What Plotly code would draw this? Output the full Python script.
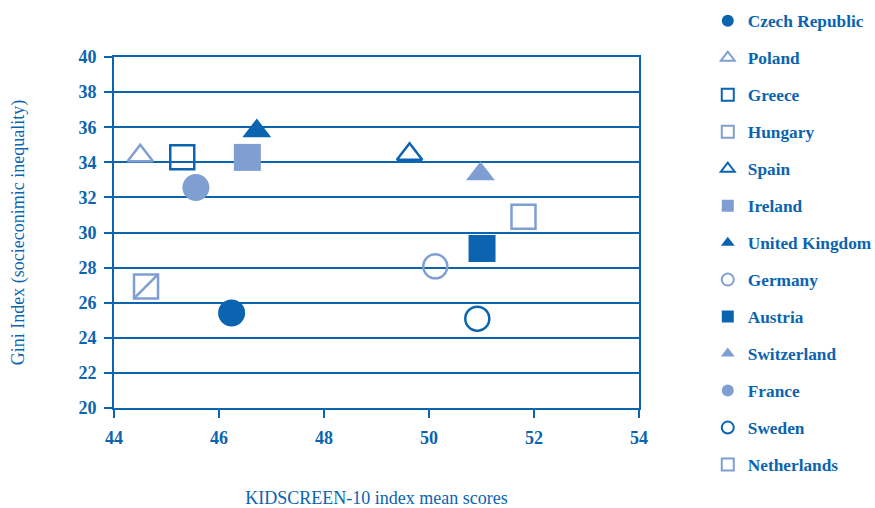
import plotly.graph_objects as go

countries = ["Czech Republic", "Poland", "Greece", "Hungary", "Spain", "Ireland",
             "United Kingdom", "Germany", "Austria", "Switzerland", "France",
             "Sweden", "Netherlands"]
kidscreen = [46.24, 44.50, 45.30, 44.61, 49.63, 46.54, 46.72, 50.12, 51.01, 50.98,
             45.56, 50.92, 51.80]
gini = [25.42, 34.37, 34.29, 26.93, 34.46, 34.28, 35.78, 28.07, 29.09, 33.33,
        32.56, 25.09, 30.90]

DARK = "#0a64b0"
LIGHT = "#7f9fd3"

# style per country: (symbol, color, filled)
styles = {
    "Czech Republic": ("circle", DARK, True),
    "Poland": ("triangle-up", LIGHT, False),
    "Greece": ("square", DARK, False),
    "Hungary": ("square", LIGHT, False),
    "Spain": ("triangle-up", DARK, False),
    "Ireland": ("square", LIGHT, True),
    "United Kingdom": ("triangle-up", DARK, True),
    "Germany": ("circle", LIGHT, False),
    "Austria": ("square", DARK, True),
    "Switzerland": ("triangle-up", LIGHT, True),
    "France": ("circle", LIGHT, True),
    "Sweden": ("circle", DARK, False),
    "Netherlands": ("square", LIGHT, False),
}

FONT = "Liberation Serif, Times New Roman, serif"

fig = go.Figure()
for i, c in enumerate(countries):
    sym, col, filled = styles[c]
    if sym == "triangle-up":
        size = 25 if filled else 22
    else:
        size = 27 if filled else 24
    marker = dict(symbol=sym if filled else sym + "-open", size=size, color=col,
                  line=dict(color=col, width=0 if filled else 2.5))
    fig.add_trace(go.Scatter(x=[kidscreen[i]], y=[gini[i]], mode="markers", name=c,
                             legendgroup=c, marker=marker, hoverinfo="name+x+y"))
    if c == "Hungary":
        fig.add_trace(go.Scatter(x=[kidscreen[i]], y=[gini[i]], mode="markers",
                                 legendgroup=c, showlegend=False,
                                 marker=dict(symbol="line-ne", size=size, color=col,
                                             line=dict(color=col, width=2.5)),
                                 hoverinfo="skip"))

fig.update_layout(
    width=875, height=508,
    margin=dict(l=114, r=236, t=57, b=100, autoexpand=False),
    paper_bgcolor="white", plot_bgcolor="white",
    font=dict(family=FONT, color=DARK, size=18),
    showlegend=True,
    legend=dict(x=1.131, y=1.154, xanchor="left", yanchor="top",
                font=dict(family=FONT, size=17.3, color=DARK, weight="bold"),
                itemsizing="constant", tracegroupgap=11.5, traceorder="grouped",
                maxheight=508,
                bgcolor="rgba(0,0,0,0)"),
    xaxis=dict(range=[44, 54], dtick=2, tick0=44, showgrid=False, zeroline=False,
               showline=True, linecolor=DARK, linewidth=2, mirror=True,
               ticks="outside", ticklen=8, tickwidth=2, tickcolor=DARK,
               ticklabelstandoff=4, automargin=False,
               tickfont=dict(family=FONT, size=18, color=DARK, weight="bold"),
               title=dict(text="KIDSCREEN-10 index mean scores", standoff=45,
                          font=dict(family=FONT, size=18, color=DARK))),
    yaxis=dict(range=[20, 40], dtick=2, tick0=20, showgrid=True, gridcolor=DARK,
               gridwidth=1.5, zeroline=False,
               showline=True, linecolor=DARK, linewidth=2, mirror=True,
               ticks="outside", ticklen=8, tickwidth=2, tickcolor=DARK,
               ticklabelstandoff=4, automargin=False,
               tickfont=dict(family=FONT, size=18, color=DARK, weight="bold"),
               title=dict(text="Gini Index (socieconimic inequality)", standoff=49,
                          font=dict(family=FONT, size=18, color=DARK))),
)

fig.write_html("out.html", config={"displayModeBar": False},
               post_script="document.body.style.margin='0';")
